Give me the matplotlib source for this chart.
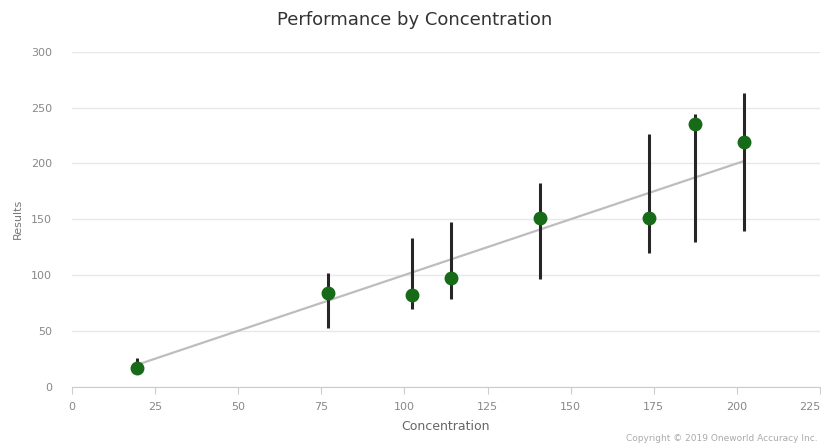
import numpy as np
import matplotlib
matplotlib.use("Agg")
import matplotlib.pyplot as plt

# данные
concentration = [19.5, 77.2, 102.4, 113.9, 140.7, 173.6, 187.3, 202.1]
results = [16.5, 83.7, 82.2, 97.7, 150.9, 150.9, 235.1, 219.0]
err_low = [12.0, 52.3, 69.4, 78.3, 96.2, 120.1, 129.9, 139.8]
err_high = [25.4, 101.6, 133.5, 147.9, 182.8, 226.1, 244.4, 263.4]

x = np.array(concentration)
y = np.array(results)
yerr = [y - np.array(err_low), np.array(err_high) - y]

fig = plt.figure(figsize=(8.21, 4.47), dpi=100)
ax = fig.add_axes([0.0873, 0.1349, 0.9117, 0.7494])

# ожидаемая линия: результат = концентрация
line_x = np.array([x.min(), x.max()])
ax.plot(line_x, line_x, color='#bdbdbd', linewidth=1.6, zorder=2)

ax.errorbar(x, y, yerr=yerr, fmt='none', ecolor='#262626', elinewidth=2.2,
            capsize=0, zorder=3)
ax.plot(x, y, 'o', color='#176a17', markersize=9, zorder=4)

ax.set_xlim(0, 225)
ax.set_ylim(0, 300)
ax.set_xticks(np.arange(0, 226, 25))
ax.set_yticks(np.arange(0, 301, 50))

ax.grid(axis='y', color='#e8e8e8', linewidth=1)
ax.set_axisbelow(True)
for side in ['top', 'right', 'left']:
    ax.spines[side].set_visible(False)
ax.spines['bottom'].set_color('#cccccc')
ax.tick_params(axis='y', length=0, labelsize=8, labelcolor='#888888', pad=14)
ax.tick_params(axis='x', length=5, color='#cccccc', labelsize=8,
               labelcolor='#888888', pad=6)
# последняя подпись у самого края - прижимаем вправо
ax.get_xticklabels()[-1].set_horizontalalignment('right')

ax.set_xlabel('Concentration', fontsize=9, color='#666666', labelpad=6)
ax.set_ylabel('Results', fontsize=8, color='#777777', labelpad=6)
fig.text(0.505, 0.955, 'Performance by Concentration', ha='center', va='center',
         fontsize=13, color='#333333')
fig.text(0.996, 0.018, 'Copyright © 2019 Oneworld Accuracy Inc.', ha='right',
         va='center', fontsize=6.5, color='#aaaaaa')

fig.savefig('out.png', dpi=100)
